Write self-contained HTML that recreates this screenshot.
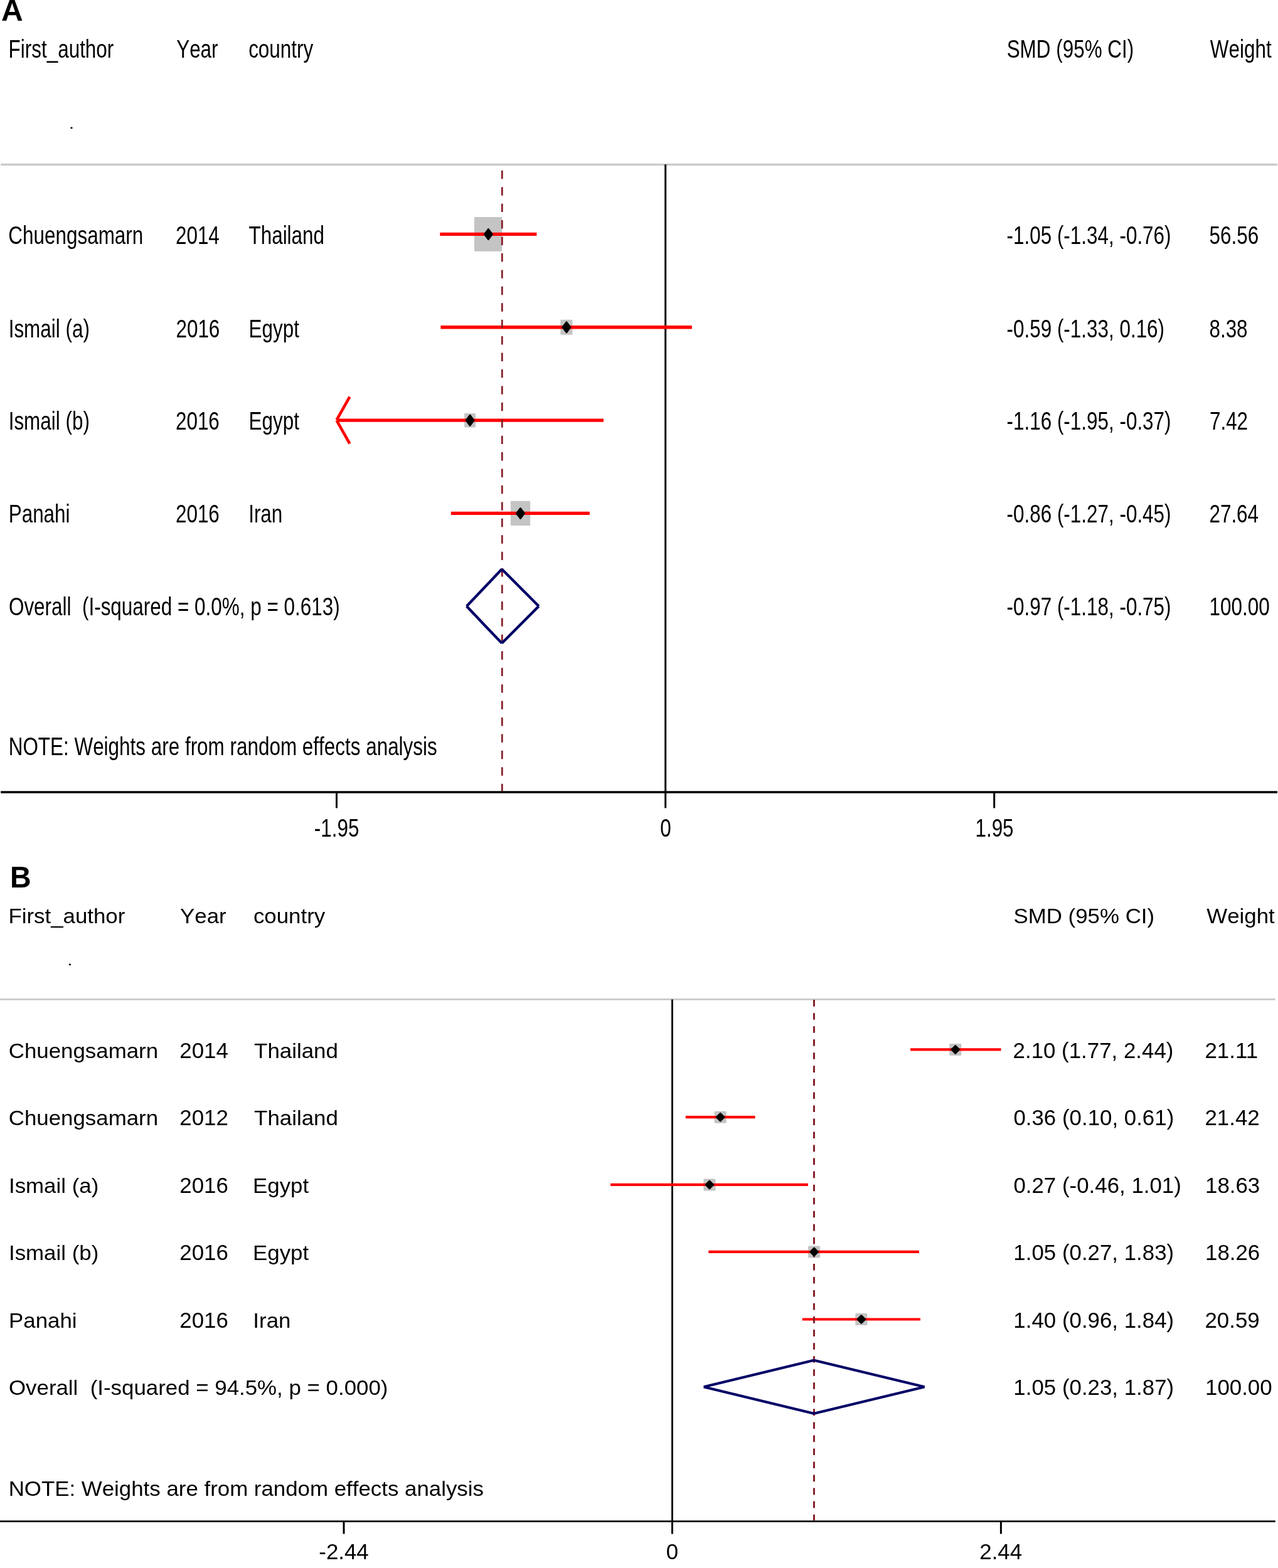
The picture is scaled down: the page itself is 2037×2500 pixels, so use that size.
<!DOCTYPE html>
<html><head><meta charset="utf-8"><title>Forest plots</title>
<style>
html,body{margin:0;padding:0;background:#fff;}
body{width:2037px;height:2500px;overflow:hidden;}
svg{display:block;}
text{font-family:"Liberation Sans",Arial,sans-serif;fill:#000;white-space:pre;font-kerning:none;}
</style></head>
<body>
<svg width="2037" height="2500" viewBox="0 0 2037 2500">
<rect x="0" y="0" width="2037" height="2500" fill="#fff"/>
<g stroke-linecap="butt">
<line x1="1.20" y1="262.30" x2="2036.00" y2="262.30" stroke="#c9c9c9" stroke-width="3.20"/>
<line x1="1060.70" y1="262.30" x2="1060.70" y2="1263.00" stroke="#000" stroke-width="3.00"/>
<rect x="755.95" y="345.95" width="44.10" height="54.80" rx="1.20" fill="#c4c4c4"/>
<rect x="893.35" y="509.75" width="19.10" height="24.00" rx="1.20" fill="#c4c4c4"/>
<rect x="740.15" y="658.90" width="17.80" height="22.60" rx="1.20" fill="#c4c4c4"/>
<rect x="813.95" y="798.80" width="31.20" height="39.30" rx="1.20" fill="#c4c4c4"/>
<line x1="701.30" y1="373.45" x2="855.40" y2="373.45" stroke="#ff0000" stroke-width="5.30"/>
<line x1="702.40" y1="521.75" x2="1102.80" y2="521.75" stroke="#ff0000" stroke-width="5.30"/>
<line x1="536.60" y1="670.20" x2="962.00" y2="670.20" stroke="#ff0000" stroke-width="5.30"/>
<line x1="718.80" y1="818.45" x2="939.90" y2="818.45" stroke="#ff0000" stroke-width="5.30"/>
<line x1="557.40" y1="632.60" x2="536.60" y2="669.60" stroke="#ff0000" stroke-width="4.60"/>
<line x1="536.60" y1="670.40" x2="557.40" y2="707.40" stroke="#ff0000" stroke-width="4.60"/>
<line x1="800.30" y1="271.80" x2="800.30" y2="1261.60" stroke="#86202a" stroke-width="2.80" stroke-dasharray="13.4 13.03"/>
<polygon points="778.40,365.30 784.60,373.45 778.40,381.60 772.20,373.45" fill="#000" stroke="#000" stroke-width="2.6" stroke-linejoin="round"/>
<polygon points="902.95,513.60 909.15,521.75 902.95,529.90 896.75,521.75" fill="#000" stroke="#000" stroke-width="2.6" stroke-linejoin="round"/>
<polygon points="749.10,662.05 755.30,670.20 749.10,678.35 742.90,670.20" fill="#000" stroke="#000" stroke-width="2.6" stroke-linejoin="round"/>
<polygon points="829.50,810.30 835.70,818.45 829.50,826.60 823.30,818.45" fill="#000" stroke="#000" stroke-width="2.6" stroke-linejoin="round"/>
<line x1="743.75" y1="966.60" x2="799.89" y2="907.60" stroke="#000066" stroke-width="4.30"/>
<line x1="799.89" y1="907.60" x2="858.72" y2="966.60" stroke="#000066" stroke-width="4.30"/>
<line x1="858.72" y1="966.60" x2="799.89" y2="1025.60" stroke="#000066" stroke-width="4.30"/>
<line x1="799.89" y1="1025.60" x2="743.75" y2="966.60" stroke="#000066" stroke-width="4.30"/>
<line x1="1.20" y1="1263.00" x2="2036.00" y2="1263.00" stroke="#000" stroke-width="3.60"/>
<line x1="536.50" y1="1263.00" x2="536.50" y2="1288.40" stroke="#000" stroke-width="3.00"/>
<line x1="1060.70" y1="1263.00" x2="1060.70" y2="1288.40" stroke="#000" stroke-width="3.00"/>
<line x1="1584.70" y1="1263.00" x2="1584.70" y2="1288.40" stroke="#000" stroke-width="3.00"/>
<rect x="112.6" y="202.5" width="2.8" height="2.8" fill="#000"/>
<line x1="0.00" y1="1593.40" x2="2032.60" y2="1593.40" stroke="#c9c9c9" stroke-width="2.60"/>
<line x1="1071.50" y1="1593.40" x2="1071.50" y2="2425.70" stroke="#000" stroke-width="2.80"/>
<rect x="1513.30" y="1663.95" width="19.00" height="19.00" rx="1.20" fill="#c4c4c4"/>
<rect x="1138.70" y="1771.65" width="19.00" height="19.00" rx="1.20" fill="#c4c4c4"/>
<rect x="1121.40" y="1879.45" width="19.00" height="19.00" rx="1.20" fill="#c4c4c4"/>
<rect x="1288.15" y="1986.40" width="19.00" height="19.00" rx="1.20" fill="#c4c4c4"/>
<rect x="1363.35" y="2094.00" width="19.00" height="19.00" rx="1.20" fill="#c4c4c4"/>
<line x1="1451.10" y1="1673.45" x2="1595.50" y2="1673.45" stroke="#ff0000" stroke-width="4.20"/>
<line x1="1092.80" y1="1781.15" x2="1203.60" y2="1781.15" stroke="#ff0000" stroke-width="4.20"/>
<line x1="973.00" y1="1888.95" x2="1288.00" y2="1888.95" stroke="#ff0000" stroke-width="4.20"/>
<line x1="1129.30" y1="1995.90" x2="1465.00" y2="1995.90" stroke="#ff0000" stroke-width="4.20"/>
<line x1="1278.80" y1="2103.50" x2="1467.00" y2="2103.50" stroke="#ff0000" stroke-width="4.20"/>
<line x1="1297.50" y1="1594.10" x2="1297.50" y2="2424.30" stroke="#86202a" stroke-width="3.00" stroke-dasharray="10.6 10.44"/>
<polygon points="1522.80,1667.35 1528.90,1673.45 1522.80,1679.55 1516.70,1673.45" fill="#000" stroke="#000" stroke-width="2.6" stroke-linejoin="round"/>
<polygon points="1148.20,1775.05 1154.30,1781.15 1148.20,1787.25 1142.10,1781.15" fill="#000" stroke="#000" stroke-width="2.6" stroke-linejoin="round"/>
<polygon points="1130.90,1882.85 1137.00,1888.95 1130.90,1895.05 1124.80,1888.95" fill="#000" stroke="#000" stroke-width="2.6" stroke-linejoin="round"/>
<polygon points="1297.65,1989.80 1303.75,1995.90 1297.65,2002.00 1291.55,1995.90" fill="#000" stroke="#000" stroke-width="2.6" stroke-linejoin="round"/>
<polygon points="1372.85,2097.40 1378.95,2103.50 1372.85,2109.60 1366.75,2103.50" fill="#000" stroke="#000" stroke-width="2.6" stroke-linejoin="round"/>
<line x1="1121.70" y1="2211.25" x2="1297.30" y2="2168.80" stroke="#000066" stroke-width="4.00"/>
<line x1="1297.30" y1="2168.80" x2="1473.60" y2="2211.25" stroke="#000066" stroke-width="4.00"/>
<line x1="1473.60" y1="2211.25" x2="1297.30" y2="2253.70" stroke="#000066" stroke-width="4.00"/>
<line x1="1297.30" y1="2253.70" x2="1121.70" y2="2211.25" stroke="#000066" stroke-width="4.00"/>
<line x1="0.00" y1="2425.70" x2="2032.80" y2="2425.70" stroke="#000" stroke-width="2.80"/>
<line x1="548.00" y1="2425.70" x2="548.00" y2="2445.60" stroke="#000" stroke-width="3.00"/>
<line x1="1071.50" y1="2425.70" x2="1071.50" y2="2445.60" stroke="#000" stroke-width="3.00"/>
<line x1="1595.40" y1="2425.70" x2="1595.40" y2="2445.60" stroke="#000" stroke-width="3.00"/>
<rect x="109.9" y="1536.6" width="3" height="2.5" fill="#000"/>
</g>
<text x="2.0" y="32.8" font-size="48" font-weight="bold">A</text>
<text transform="translate(16.0 1414.9) scale(0.97 1)" font-size="48" font-weight="bold">B</text>
<text transform="translate(13.58 92.20) scale(0.7860 1)" font-size="40.00">First_author</text>
<text transform="translate(281.17 92.20) scale(0.7860 1)" font-size="40.00">Year</text>
<text transform="translate(396.14 92.20) scale(0.7860 1)" font-size="40.00">country</text>
<text transform="translate(1604.63 92.20) scale(0.7860 1)" font-size="40.00">SMD (95% CI)</text>
<text transform="translate(1928.80 92.20) scale(0.7860 1)" font-size="40.00">Weight</text>
<text transform="translate(13.33 389.20) scale(0.7860 1)" font-size="40.00">Chuengsamarn</text>
<text transform="translate(279.93 389.20) scale(0.7668 1)" font-size="41.00">2014</text>
<text transform="translate(396.47 389.20) scale(0.7860 1)" font-size="40.00">Thailand</text>
<text transform="translate(1604.54 389.20) scale(0.7668 1)" font-size="41.00">-1.05 (-1.34, -0.76)</text>
<text transform="translate(1927.54 389.20) scale(0.7668 1)" font-size="41.00">56.56</text>
<text transform="translate(13.67 537.50) scale(0.7860 1)" font-size="40.00">Ismail (a)</text>
<text transform="translate(280.43 537.50) scale(0.7668 1)" font-size="41.00">2016</text>
<text transform="translate(396.48 537.50) scale(0.7860 1)" font-size="40.00">Egypt</text>
<text transform="translate(1604.54 537.50) scale(0.7668 1)" font-size="41.00">-0.59 (-1.33, 0.16)</text>
<text transform="translate(1927.44 537.50) scale(0.7668 1)" font-size="41.00">8.38</text>
<text transform="translate(13.67 685.40) scale(0.7860 1)" font-size="40.00">Ismail (b)</text>
<text transform="translate(279.93 685.40) scale(0.7668 1)" font-size="41.00">2016</text>
<text transform="translate(396.48 685.40) scale(0.7860 1)" font-size="40.00">Egypt</text>
<text transform="translate(1604.54 685.40) scale(0.7668 1)" font-size="41.00">-1.16 (-1.95, -0.37)</text>
<text transform="translate(1927.93 685.40) scale(0.7668 1)" font-size="41.00">7.42</text>
<text transform="translate(13.68 833.30) scale(0.7860 1)" font-size="40.00">Panahi</text>
<text transform="translate(279.93 833.30) scale(0.7668 1)" font-size="41.00">2016</text>
<text transform="translate(396.17 833.30) scale(0.7860 1)" font-size="40.00">Iran</text>
<text transform="translate(1604.54 833.30) scale(0.7668 1)" font-size="41.00">-0.86 (-1.27, -0.45)</text>
<text transform="translate(1927.43 833.30) scale(0.7668 1)" font-size="41.00">27.64</text>
<text transform="translate(13.93 981.00) scale(0.7860 1)" font-size="40.00">Overall  (I-squared = 0.0%, p = 0.613)</text>
<text transform="translate(1604.54 981.00) scale(0.7668 1)" font-size="41.00">-0.97 (-1.18, -0.75)</text>
<text transform="translate(1927.60 981.00) scale(0.7668 1)" font-size="41.00">100.00</text>
<text transform="translate(13.68 1204.10) scale(0.7860 1)" font-size="40.00">NOTE: Weights are from random effects analysis</text>
<text transform="translate(536.60 1334.30) scale(0.7668 1)" font-size="41.00" text-anchor="middle">-1.95</text>
<text transform="translate(1060.90 1334.30) scale(0.7668 1)" font-size="41.00" text-anchor="middle">0</text>
<text transform="translate(1585.00 1334.30) scale(0.7668 1)" font-size="41.00" text-anchor="middle">1.95</text>
<text transform="translate(13.41 1471.60) scale(1.0440 1)" font-size="33.40">First_author</text>
<text transform="translate(287.00 1471.60) scale(1.0440 1)" font-size="33.40">Year</text>
<text transform="translate(403.91 1471.60) scale(1.0440 1)" font-size="33.40">country</text>
<text transform="translate(1615.46 1471.60) scale(1.0440 1)" font-size="33.40">SMD (95% CI)</text>
<text transform="translate(1923.30 1471.60) scale(1.0440 1)" font-size="33.40">Weight</text>
<text transform="translate(13.76 1686.60) scale(1.0440 1)" font-size="33.40">Chuengsamarn</text>
<text transform="translate(286.26 1686.60) scale(1.0020 1)" font-size="34.80">2014</text>
<text transform="translate(405.10 1686.60) scale(1.0440 1)" font-size="33.40">Thailand</text>
<text transform="translate(1614.56 1686.60) scale(1.0020 1)" font-size="34.80">2.10 (1.77, 2.44)</text>
<text transform="translate(1920.46 1686.60) scale(1.0020 1)" font-size="34.80">21.1<tspan dx="-2.6">1</tspan></text>
<text transform="translate(13.76 1794.20) scale(1.0440 1)" font-size="33.40">Chuengsamarn</text>
<text transform="translate(286.26 1794.20) scale(1.0020 1)" font-size="34.80">2012</text>
<text transform="translate(405.10 1794.20) scale(1.0440 1)" font-size="33.40">Thailand</text>
<text transform="translate(1615.41 1794.20) scale(1.0020 1)" font-size="34.80">0.36 (0.10, 0.61)</text>
<text transform="translate(1920.46 1794.20) scale(1.0020 1)" font-size="34.80">21.42</text>
<text transform="translate(13.96 1901.80) scale(1.0440 1)" font-size="33.40">Ismail (a)</text>
<text transform="translate(286.26 1901.80) scale(1.0020 1)" font-size="34.80">2016</text>
<text transform="translate(403.01 1901.80) scale(1.0440 1)" font-size="33.40">Egypt</text>
<text transform="translate(1615.41 1901.80) scale(1.0020 1)" font-size="34.80">0.27 (-0.46, 1.01)</text>
<text transform="translate(1921.00 1901.80) scale(1.0020 1)" font-size="34.80">18.63</text>
<text transform="translate(13.96 2008.90) scale(1.0440 1)" font-size="33.40">Ismail (b)</text>
<text transform="translate(286.26 2008.90) scale(1.0020 1)" font-size="34.80">2016</text>
<text transform="translate(403.01 2008.90) scale(1.0440 1)" font-size="33.40">Egypt</text>
<text transform="translate(1615.35 2008.90) scale(1.0020 1)" font-size="34.80">1.05 (0.27, 1.83)</text>
<text transform="translate(1921.00 2008.90) scale(1.0020 1)" font-size="34.80">18.26</text>
<text transform="translate(14.01 2116.70) scale(1.0440 1)" font-size="33.40">Panahi</text>
<text transform="translate(286.26 2116.70) scale(1.0020 1)" font-size="34.80">2016</text>
<text transform="translate(403.36 2116.70) scale(1.0440 1)" font-size="33.40">Iran</text>
<text transform="translate(1615.35 2116.70) scale(1.0020 1)" font-size="34.80">1.40 (0.96, 1.84)</text>
<text transform="translate(1920.46 2116.70) scale(1.0020 1)" font-size="34.80">20.59</text>
<text transform="translate(13.96 2224.20) scale(1.0440 1)" font-size="33.40">Overall  (I-squared = 94.5%, p = 0.000)</text>
<text transform="translate(1615.35 2224.20) scale(1.0020 1)" font-size="34.80">1.05 (0.23, 1.87)</text>
<text transform="translate(1921.00 2224.20) scale(1.0020 1)" font-size="34.80">100.00</text>
<text transform="translate(13.66 2384.90) scale(1.0440 1)" font-size="33.40">NOTE: Weights are from random effects analysis</text>
<text transform="translate(548.00 2486.20) scale(1.0020 1)" font-size="34.80" text-anchor="middle">-2.44</text>
<text transform="translate(1071.40 2486.20) scale(1.0020 1)" font-size="34.80" text-anchor="middle">0</text>
<text transform="translate(1595.20 2486.20) scale(1.0020 1)" font-size="34.80" text-anchor="middle">2.44</text>
</svg>
</body></html>
